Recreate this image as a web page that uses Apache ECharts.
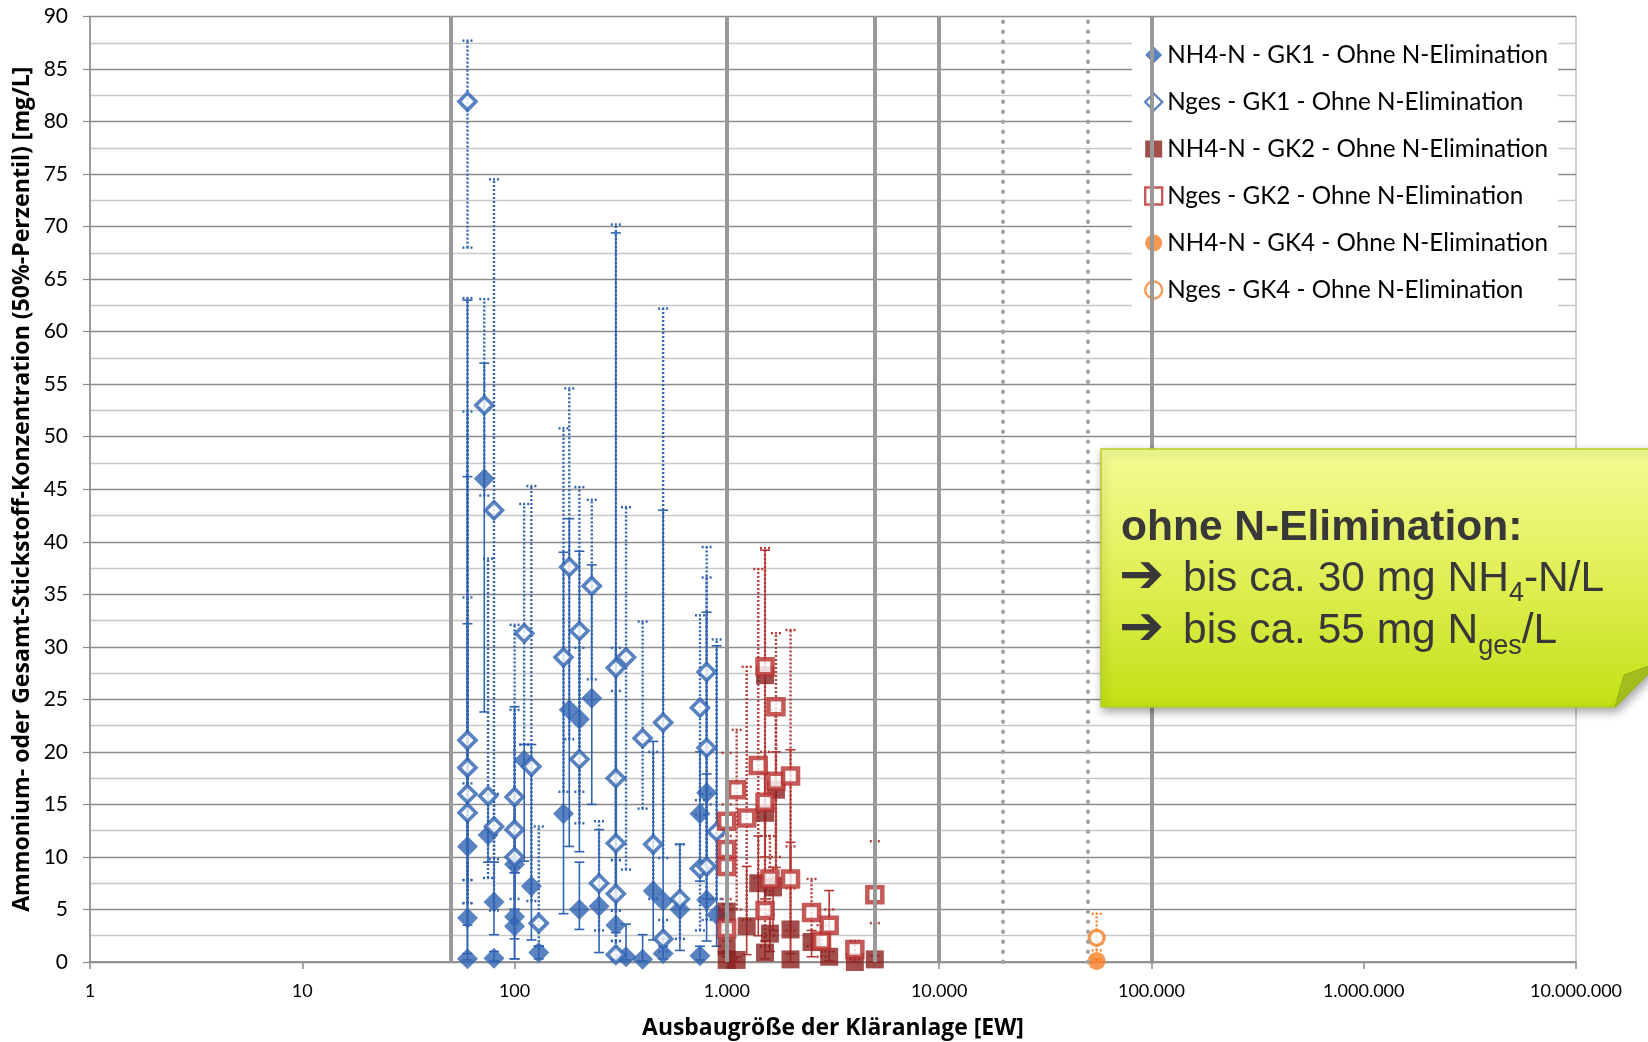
<!DOCTYPE html>
<html><head><meta charset="utf-8">
<script src="https://cdn.jsdelivr.net/npm/echarts@6/dist/echarts.min.js"></script>
<style>html,body{margin:0;padding:0;background:#fff}#c{width:1648px;height:1042px}</style>
</head><body><div id="c"></div>
<script>
// ---- data ----
const xTickLabels = ['1','10','100','1.000','10.000','100.000','1.000.000','10.000.000'];
const classLinesSolid = [50, 1000, 5000, 10000, 100000];
const classLinesDotted = [20000, 50000];
const seriesNames = [
  'NH4-N - GK1 - Ohne N-Elimination',
  'Nges - GK1 - Ohne N-Elimination',
  'NH4-N - GK2 - Ohne N-Elimination',
  'Nges - GK2 - Ohne N-Elimination',
  'NH4-N - GK4 - Ohne N-Elimination',
  'Nges - GK4 - Ohne N-Elimination'
];
// [EW, median, lower, upper]
const gk1NH4 = [
[60,11.0,3.5,63.0],[60,4.2,0.8,46.2],[60,0.3,0.2,32.2],
[72,46.0,23.8,57.0],[75,12.1,9.5,16.0],[80,5.7,2.6,9.5],[80,0.35,0.1,1.0],
[100,9.3,2.2,24.3],[100,4.3,0.3,8.5],[100,3.4,0.3,8.5],
[111,19.2,9.6,20.7],[120,7.2,2.1,20.7],[130,0.9,0.3,1.5],
[170,14.1,4.6,39.0],[181,24.0,11.0,42.2],[202,23.1,10.5,39.1],[202,5.0,3.1,9.5],
[231,25.1,15.0,37.8],[250,5.3,0.9,12.6],[300,3.5,2.8,69.4],[335,0.5,0.2,3.6],
[401,0.25,0.1,2.6],[450,6.75,2.1,21.0],[501,5.8,1.5,43.0],[501,0.8,0.3,2.2],
[601,5.0,1.1,11.2],[747,14.1,7.7,20.0],[747,0.6,0.2,1.5],[803,16.1,6.0,33.3],[803,5.9,2.0,17.9],[895,4.5,1.5,30.1]
];
const gk1Nges = [
[60,81.9,68.0,87.7],[60,21.1,5.6,63.2],[60,18.5,7.8,52.4],[60,16.0,7.8,34.7],[60,14.2,5.6,17.0],
[72,53.0,44.4,63.1],[75,15.8,8.0,38.4],[80,43.0,9.8,74.5],[80,12.9,4.9,16.0],
[100,15.7,9.0,32.1],[100,12.6,6.0,24.0],[100,10.0,5.0,16.0],
[111,31.3,20.7,43.6],[120,18.6,5.8,45.3],[130,3.7,1.5,12.9],
[170,29.0,16.2,50.8],[181,37.6,21.2,54.6],[202,31.5,16.2,45.2],[202,19.3,13.2,29.9],
[231,35.8,26.9,44.0],[250,7.5,3.0,13.4],
[300,28.0,9.7,70.2],[300,17.5,4.9,29.9],[300,11.3,4.9,25.8],[300,6.5,2.0,9.7],[300,0.7,0.2,2.0],
[335,29.0,8.8,43.3],[401,21.3,14.6,32.4],[450,11.2,6.0,20.0],[501,22.8,9.9,62.2],[501,2.2,1.0,4.0],
[601,6.0,2.2,11.2],[747,24.2,15.4,33.0],[747,8.9,3.0,14.0],[803,27.6,15.0,39.5],[803,20.4,9.0,36.6],[803,9.1,4.0,16.0],[895,12.4,6.0,30.7]
];
const gk2NH4 = [
[998,4.8,2.0,5.5],[998,1.5,0.5,3.0],[998,0.2,0.0,1.0],[1112,0.2,0.0,0.5],[1240,3.4,0.7,9.1],
[1406,7.5,2.5,12.0],[1513,27.3,10.0,39.2],[1513,14.2,6.0,18.0],[1513,0.9,0.3,2.0],[1596,2.7,1.0,4.5],
[1650,7.1,3.0,9.0],[1703,16.4,9.0,20.0],[1995,3.1,0.8,20.2],[1995,0.25,0.0,11.4],[2506,1.9,0.5,3.0],
[3034,0.5,0.1,6.8],[4008,0.0,0.0,0.5],[4977,0.25,0.0,0.6]
];
const gk2Nges = [
[998,13.4,6.0,19.9],[998,10.7,4.0,15.0],[998,9.1,3.5,12.0],[998,3.2,1.0,5.0],[1112,16.4,5.0,22.1],
[1240,13.7,4.0,28.1],[1406,18.7,8.0,37.4],[1513,28.1,12.0,39.4],[1513,15.2,5.0,20.0],[1513,4.9,1.5,8.0],
[1596,7.9,2.5,12.0],[1703,24.3,10.0,31.3],[1703,17.2,8.0,24.0],[1995,17.7,7.0,31.6],[1995,7.9,3.0,11.0],
[2506,4.7,1.5,7.9],[2793,2.0,0.5,3.5],[3034,3.5,1.0,5.0],[4008,1.2,0.3,2.0],[4977,6.4,3.7,11.5]
];
const gk4NH4 = [[55200,0.1,0.0,0.3]];
const gk4Nges = [[55200,2.3,1.1,4.6]];
const yTitle = 'Ammonium- oder Gesamt-Stickstoff-Konzentration (50%-Perzentil) [mg/L]';
const xTitle = 'Ausbaugröße der Kläranlage [EW]';
const noteTitle = 'ohne N-Elimination:';
const noteLine1 = ['bis ca. 30 mg NH', '4', '-N/L'];
const noteLine2 = ['bis ca. 55 mg N', 'ges', '/L'];

// ---- styles ----
const BLUE = '#3063B1', RED_F = '#8B2220', RED_H = '#B8312F', RED_BAR = '#B33A36', ORANGE = '#F58025';
const SQ = 'path://M0 0H10V10H0Z';

const cv = document.createElement('canvas').getContext('2d');
function tw(font, s){ cv.font = font; return cv.measureText(s).width; }
function fit(weight, family, text, target){ return 20 * target / tw(weight + ' 20px ' + family, text); }
const LEG_FS = Math.min(27, fit('normal', 'Lato', seriesNames[0], 381));
const YT_FS = fit('bold', '"Open Sans"', yTitle, 846);
const XT_FS = fit('bold', '"Open Sans"', xTitle, 382);

function pts(arr){ return arr.map(d => [d[0], d[1]]); }
function bars(arr){ return arr.map(d => [d[0], d[2], d[3]]); }
function errSeries(arr, color, dashed){
  return {
    type: 'custom', data: bars(arr), silent: true, clip: false,
    encode: { x: 0, y: [1, 2] },
    renderItem: function(params, api){
      const x = api.value(0), lo = api.value(1), hi = api.value(2);
      const a = api.coord([x, lo]), b = api.coord([x, hi]);
      const st = { stroke: color, lineWidth: dashed ? 2.4 : 1.6, lineDash: dashed ? [2, 2] : null, fill: null };
      const hw = 5;
      return { type: 'group', children: [
        { type: 'line', shape: { x1: a[0], y1: a[1], x2: b[0], y2: b[1] }, style: st },
        { type: 'line', shape: { x1: a[0]-hw, y1: a[1], x2: a[0]+hw, y2: a[1] }, style: st },
        { type: 'line', shape: { x1: b[0]-hw, y1: b[1], x2: b[0]+hw, y2: b[1] }, style: st }
      ]};
    }
  };
}
function scat(name, arr, symbol, size, itemStyle){
  return { type: 'scatter', name: name, data: pts(arr), symbol: symbol, symbolSize: size,
    itemStyle: itemStyle, emphasis: { disabled: true }, silent: true };
}

const series = [
  { type: 'scatter', data: [], silent: true, z: 1,
    markLine: { symbol: 'none', silent: true, animation: false, label: { show: false },
      data: classLinesSolid.map(v => ({ xAxis: v, lineStyle: { color: '#999999', width: 4, type: 'solid' } }))
        .concat(classLinesDotted.map(v => ({ xAxis: v, lineStyle: { color: '#a3a3a3', width: 4, type: [0.5, 9.5], cap: 'round' } })))
    } },
  errSeries(gk1NH4, BLUE, false),
  scat(seriesNames[0], gk1NH4, 'diamond', 21, { color: BLUE }),
  errSeries(gk1Nges, BLUE, true),
  scat(seriesNames[1], gk1Nges, 'diamond', 17, { color: '#fff', borderColor: BLUE, borderWidth: 3.6 }),
  errSeries(gk2NH4, RED_BAR, false),
  scat(seriesNames[2], gk2NH4, 'rect', 18, { color: RED_F }),
  errSeries(gk2Nges, RED_BAR, true),
  scat(seriesNames[3], gk2Nges, 'rect', 15, { color: '#fff', borderColor: RED_H, borderWidth: 4.5 }),
  errSeries(gk4NH4, ORANGE, false),
  scat(seriesNames[4], gk4NH4, 'circle', 18, { color: ORANGE }),
  errSeries(gk4Nges, ORANGE, true),
  scat(seriesNames[5], gk4Nges, 'circle', 15, { color: '#fff', borderColor: ORANGE, borderWidth: 3.4 })
];

// ---- callout text layout ----
const FS = 42.5, SUB = 27;
const fB = 'bold ' + FS + 'px "Liberation Sans"', fR = FS + 'px "Liberation Sans"', fS = SUB + 'px "Liberation Sans"';
const ASZ = 54;
const fA = 'bold ' + ASZ + 'px "DejaVu Sans"';
const TXT = '#383838';
function T(x, base, s, font, size){
  return { type: 'text', z: 102, silent: true, style: { x: x, y: base - 0.346*size, text: s, font: font, fill: TXT, verticalAlign: 'middle', align: 'left' } };
}
function A(x, base){
  return { type: 'text', z: 102, silent: true, style: { x: x, y: base - 16, text: '➔', font: fA, fill: TXT, verticalAlign: 'middle', align: 'left' } };
}
const tx = 1183;
const w2a = tw(fR, noteLine1[0]), w2b = tw(fS, noteLine1[1]), w3a = tw(fR, noteLine2[0]), w3b = tw(fS, noteLine2[1]);
const calloutTexts = [
  T(1121, 543, noteTitle, fB, FS),
  A(1119, 594), T(tx, 594, noteLine1[0], fR, FS), T(tx + w2a, 603, noteLine1[1], fS, SUB), T(tx + w2a + w2b, 594, noteLine1[2], fR, FS),
  A(1119, 646), T(tx, 646, noteLine2[0], fR, FS), T(tx + w3a, 656, noteLine2[1], fS, SUB), T(tx + w3a + w3b, 646, noteLine2[2], fR, FS)
];

const chart = echarts.init(document.getElementById('c'), null, { renderer: 'canvas' });
chart.setOption({
  animation: false,
  backgroundColor: '#fff',
  grid: { left: 90, right: 72, top: 16.5, bottom: 80, show: true, borderColor: '#a0a0a0', borderWidth: 1, outerBoundsMode: 'none', containLabel: false },
  xAxis: {
    type: 'log', logBase: 10, min: 1, max: 10000000,
    axisLine: { show: true, onZero: false, lineStyle: { color: '#8c8c8c', width: 1.5 } },
    axisTick: { show: true, length: 7, lineStyle: { color: '#8c8c8c', width: 1.5 } },
    minorTick: { show: false }, splitLine: { show: false },
    axisLabel: { margin: 20, fontFamily: 'Lato', fontSize: 18, color: '#000',
      formatter: v => xTickLabels[Math.round(Math.log10(v))] },
    name: xTitle, nameLocation: 'middle', nameGap: 55, nameMoveOverlap: false,
    nameTextStyle: { fontFamily: 'Open Sans', fontWeight: 'bold', fontSize: XT_FS, color: '#000' }
  },
  yAxis: {
    type: 'value', min: 0, max: 90, interval: 5,
    axisLine: { show: true, lineStyle: { color: '#8c8c8c', width: 1.5 } },
    axisTick: { show: true, length: 7, lineStyle: { color: '#8c8c8c', width: 1.2 } },
    splitLine: { show: true, lineStyle: { color: '#8c8c8c', width: 1.3 } },
    minorTick: { show: false, splitNumber: 2 },
    minorSplitLine: { show: true, lineStyle: { color: '#c8c8c8', width: 1.3 } },
    axisLabel: { margin: 22, fontFamily: 'Lato', fontSize: 21, color: '#000' },
    name: yTitle, nameLocation: 'middle', nameRotate: 90, nameGap: 56, nameMoveOverlap: false,
    nameTextStyle: { fontFamily: 'Open Sans', fontWeight: 'bold', fontSize: YT_FS, color: '#000' }
  },
  legend: {
    orient: 'vertical', left: 1132, top: 30, padding: [11, 10, 9, 12], itemGap: 19,
    itemWidth: 17, itemHeight: 17, backgroundColor: '#fff', selectedMode: false,
    textStyle: { fontFamily: 'Lato', fontSize: LEG_FS, color: '#000', lineHeight: 28 },
    data: [
      { name: seriesNames[0], icon: 'diamond', itemStyle: { color: BLUE, borderWidth: 0 } },
      { name: seriesNames[1], icon: 'diamond', itemStyle: { color: '#fff', borderColor: BLUE, borderWidth: 2.4 } },
      { name: seriesNames[2], icon: SQ, itemStyle: { color: RED_F, borderColor: RED_F, borderWidth: 0 } },
      { name: seriesNames[3], icon: SQ, itemStyle: { color: '#fff', borderColor: RED_H, borderWidth: 2.4 } },
      { name: seriesNames[4], icon: 'circle', itemStyle: { color: ORANGE, borderWidth: 0 } },
      { name: seriesNames[5], icon: 'circle', itemStyle: { color: '#fff', borderColor: ORANGE, borderWidth: 2.4 } }
    ]
  },
  graphic: [
    { type: 'polygon', z: 100, silent: true,
      shape: { points: [[1101,449],[1700,449],[1700,622],[1615,707],[1101,707]] },
      style: { fill: { type: 'linear', x: 0, y: 0, x2: 0, y2: 1, colorStops: [
        { offset: 0, color: '#F4FC94' }, { offset: 0.5, color: '#E0EF55' }, { offset: 1, color: '#C2E014' } ] },
        stroke: '#B7CC25', lineWidth: 1.5,
        shadowBlur: 10, shadowColor: 'rgba(0,0,0,0.35)', shadowOffsetX: 2, shadowOffsetY: 4 } },
    { type: 'polygon', z: 101, silent: true,
      shape: { points: [[1615,707],[1624,675],[1660,662]] },
      style: { fill: '#A2BD1C', stroke: '#93AD16', lineWidth: 1 } }
  ].concat(calloutTexts),
  series: series
});
</script></body></html>
